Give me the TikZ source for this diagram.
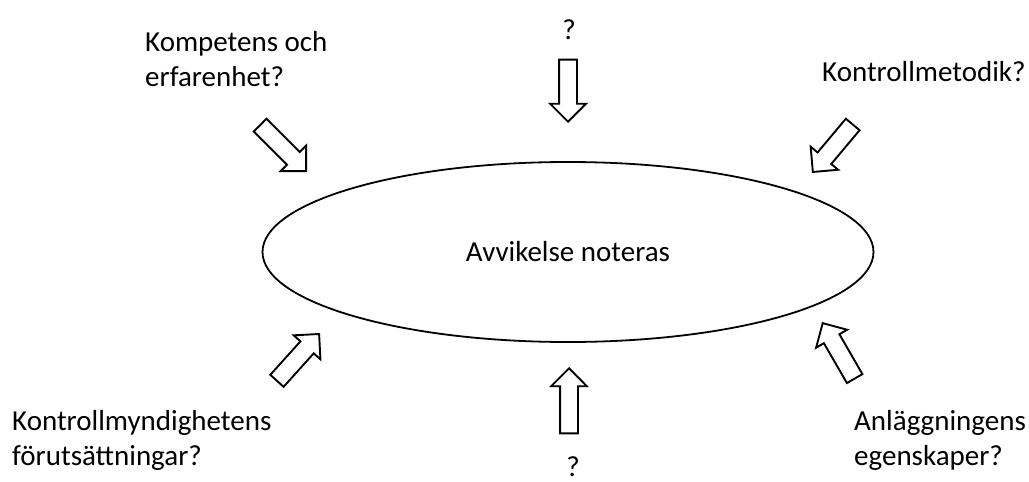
\documentclass[tikz,border=0pt]{standalone}
\usepackage{fontspec}
\setmainfont{Carlito}
\usetikzlibrary{shapes.geometric,shapes.arrows}

\begin{document}
\begin{tikzpicture}[x=1pt, y=-1pt,
  factor/.style={font=\fontsize{29}{35}\selectfont, align=left, inner sep=0pt, anchor=base west},
  hollow/.style={single arrow, draw, line width=1.9pt, fill=white, minimum height=#1, inner xsep=0pt, inner ysep=8pt, single arrow head extend=9pt, anchor=tip},
  hollow/.default=63pt
]
\useasboundingbox (0,0) rectangle (1029,482);
% central event
\node[ellipse, draw, line width=1.8pt, minimum width=611pt, minimum height=180pt, font=\fontsize{29}{35}\selectfont] (event) at (568,252) {Avvikelse noteras};
% influencing factors (anchored at the last baseline)
\node[factor] (competence) at (145,86) {Kompetens och\\erfarenhet?};
\node[factor, anchor=base] (unknownTop) at (569,39) {?};
\node[factor] (method) at (822,81) {Kontrollmetodik?};
\node[factor] (authority) at (12,465) {Kontrollmyndighetens\\förutsättningar?};
\node[factor, anchor=base] (unknownBottom) at (573,476) {?};
\node[factor] (plant) at (854,465) {Anläggningens\\egenskaper?};
% block arrows toward the event
\node[hollow=65pt, rotate=-45] (arrCompetence) at (307,172) {};
\node[hollow=62pt, rotate=-90] (arrTop) at (568,123) {};
\node[hollow=62pt, rotate=230] (arrMethod) at (812,173) {};
\node[hollow=63pt, rotate=48] (arrAuthority) at (320,333) {};
\node[hollow=65pt, rotate=90] (arrBottom) at (569,367) {};
\node[hollow=64pt, rotate=120] (arrPlant) at (822,322) {};
\end{tikzpicture}
\end{document}
